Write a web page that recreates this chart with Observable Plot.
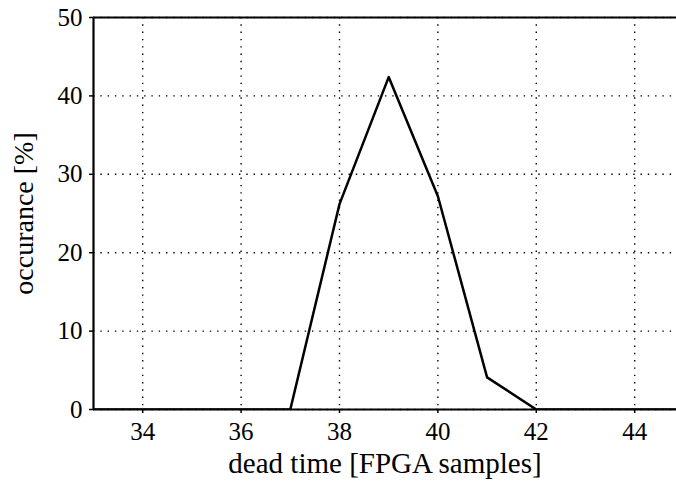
<!DOCTYPE html>
<html>
<head>
<meta charset="utf-8">
<script src="https://cdn.jsdelivr.net/npm/d3@7"></script>
<script src="https://cdn.jsdelivr.net/npm/@observablehq/plot@0.6"></script>
<style>
  html, body { margin: 0; padding: 0; background: #fff; }
  svg { display: block; }
  svg text { font-family: 'Liberation Serif', 'DejaVu Serif', serif !important; }
  svg [aria-label$="tick label"], svg [aria-label$="tick label"] text { font-size: 25px !important; font-variant: normal !important; }
</style>
</head>
<body>
<div id="chart"></div>
<script>
const deadTime = [33, 34, 35, 36, 37, 38, 39, 40, 41, 42, 43, 44, 45];
const occurance = [0, 0, 0, 0, 0, 26.2, 42.4, 27.2, 4.1, 0, 0, 0, 0];
const xTicks = [34, 36, 38, 40, 42, 44];
const yTicks = [0, 10, 20, 30, 40, 50];

const data = deadTime.map((d, i) => ({x: d, y: occurance[i]}));
const font = "'Liberation Serif', 'DejaVu Serif', serif";

const chart = Plot.plot({
  width: 676,
  height: 481,
  marginLeft: 93,
  marginRight: 0,
  marginTop: 17,
  marginBottom: 72,
  style: {fontFamily: font, fontSize: "25px", color: "#000", background: "#fff"},
  x: {domain: [33, 44.85], ticks: xTicks},
  y: {domain: [0, 50], ticks: yTicks},
  marks: [
    Plot.gridX(xTicks, {stroke: "#000", strokeOpacity: 1, strokeWidth: 1.4, strokeDasharray: "1.4,5.9"}),
    Plot.gridY(yTicks, {stroke: "#000", strokeOpacity: 1, strokeWidth: 1.4, strokeDasharray: "1.4,5.9"}),
    Plot.axisX({ticks: xTicks, tickSize: 4, tickPadding: 9, strokeWidth: 1.5, fontSize: 25, label: null}),
    Plot.axisX({ticks: [], tickSize: 0, fontSize: 29, label: "dead time [FPGA samples]", labelAnchor: "center", labelArrow: false, labelOffset: 63}),
    Plot.axisY({ticks: yTicks, tickSize: 4, tickPadding: 7, strokeWidth: 1.5, fontSize: 25, label: null}),
    Plot.axisY({ticks: [], tickSize: 0, fontSize: 28, label: "occurance [%]", labelAnchor: "center", labelArrow: false, labelOffset: 80}),
    Plot.ruleY([50], {stroke: "#000", strokeWidth: 2.2}),
    Plot.ruleX([33], {stroke: "#000", strokeWidth: 2.2}),
    Plot.ruleY([0], {stroke: "#000", strokeWidth: 2.2}),
    Plot.line(data, {x: "x", y: "y", stroke: "#000", strokeWidth: 2.5, clip: true})
  ]
});
document.getElementById("chart").appendChild(chart);
</script>
</body>
</html>
